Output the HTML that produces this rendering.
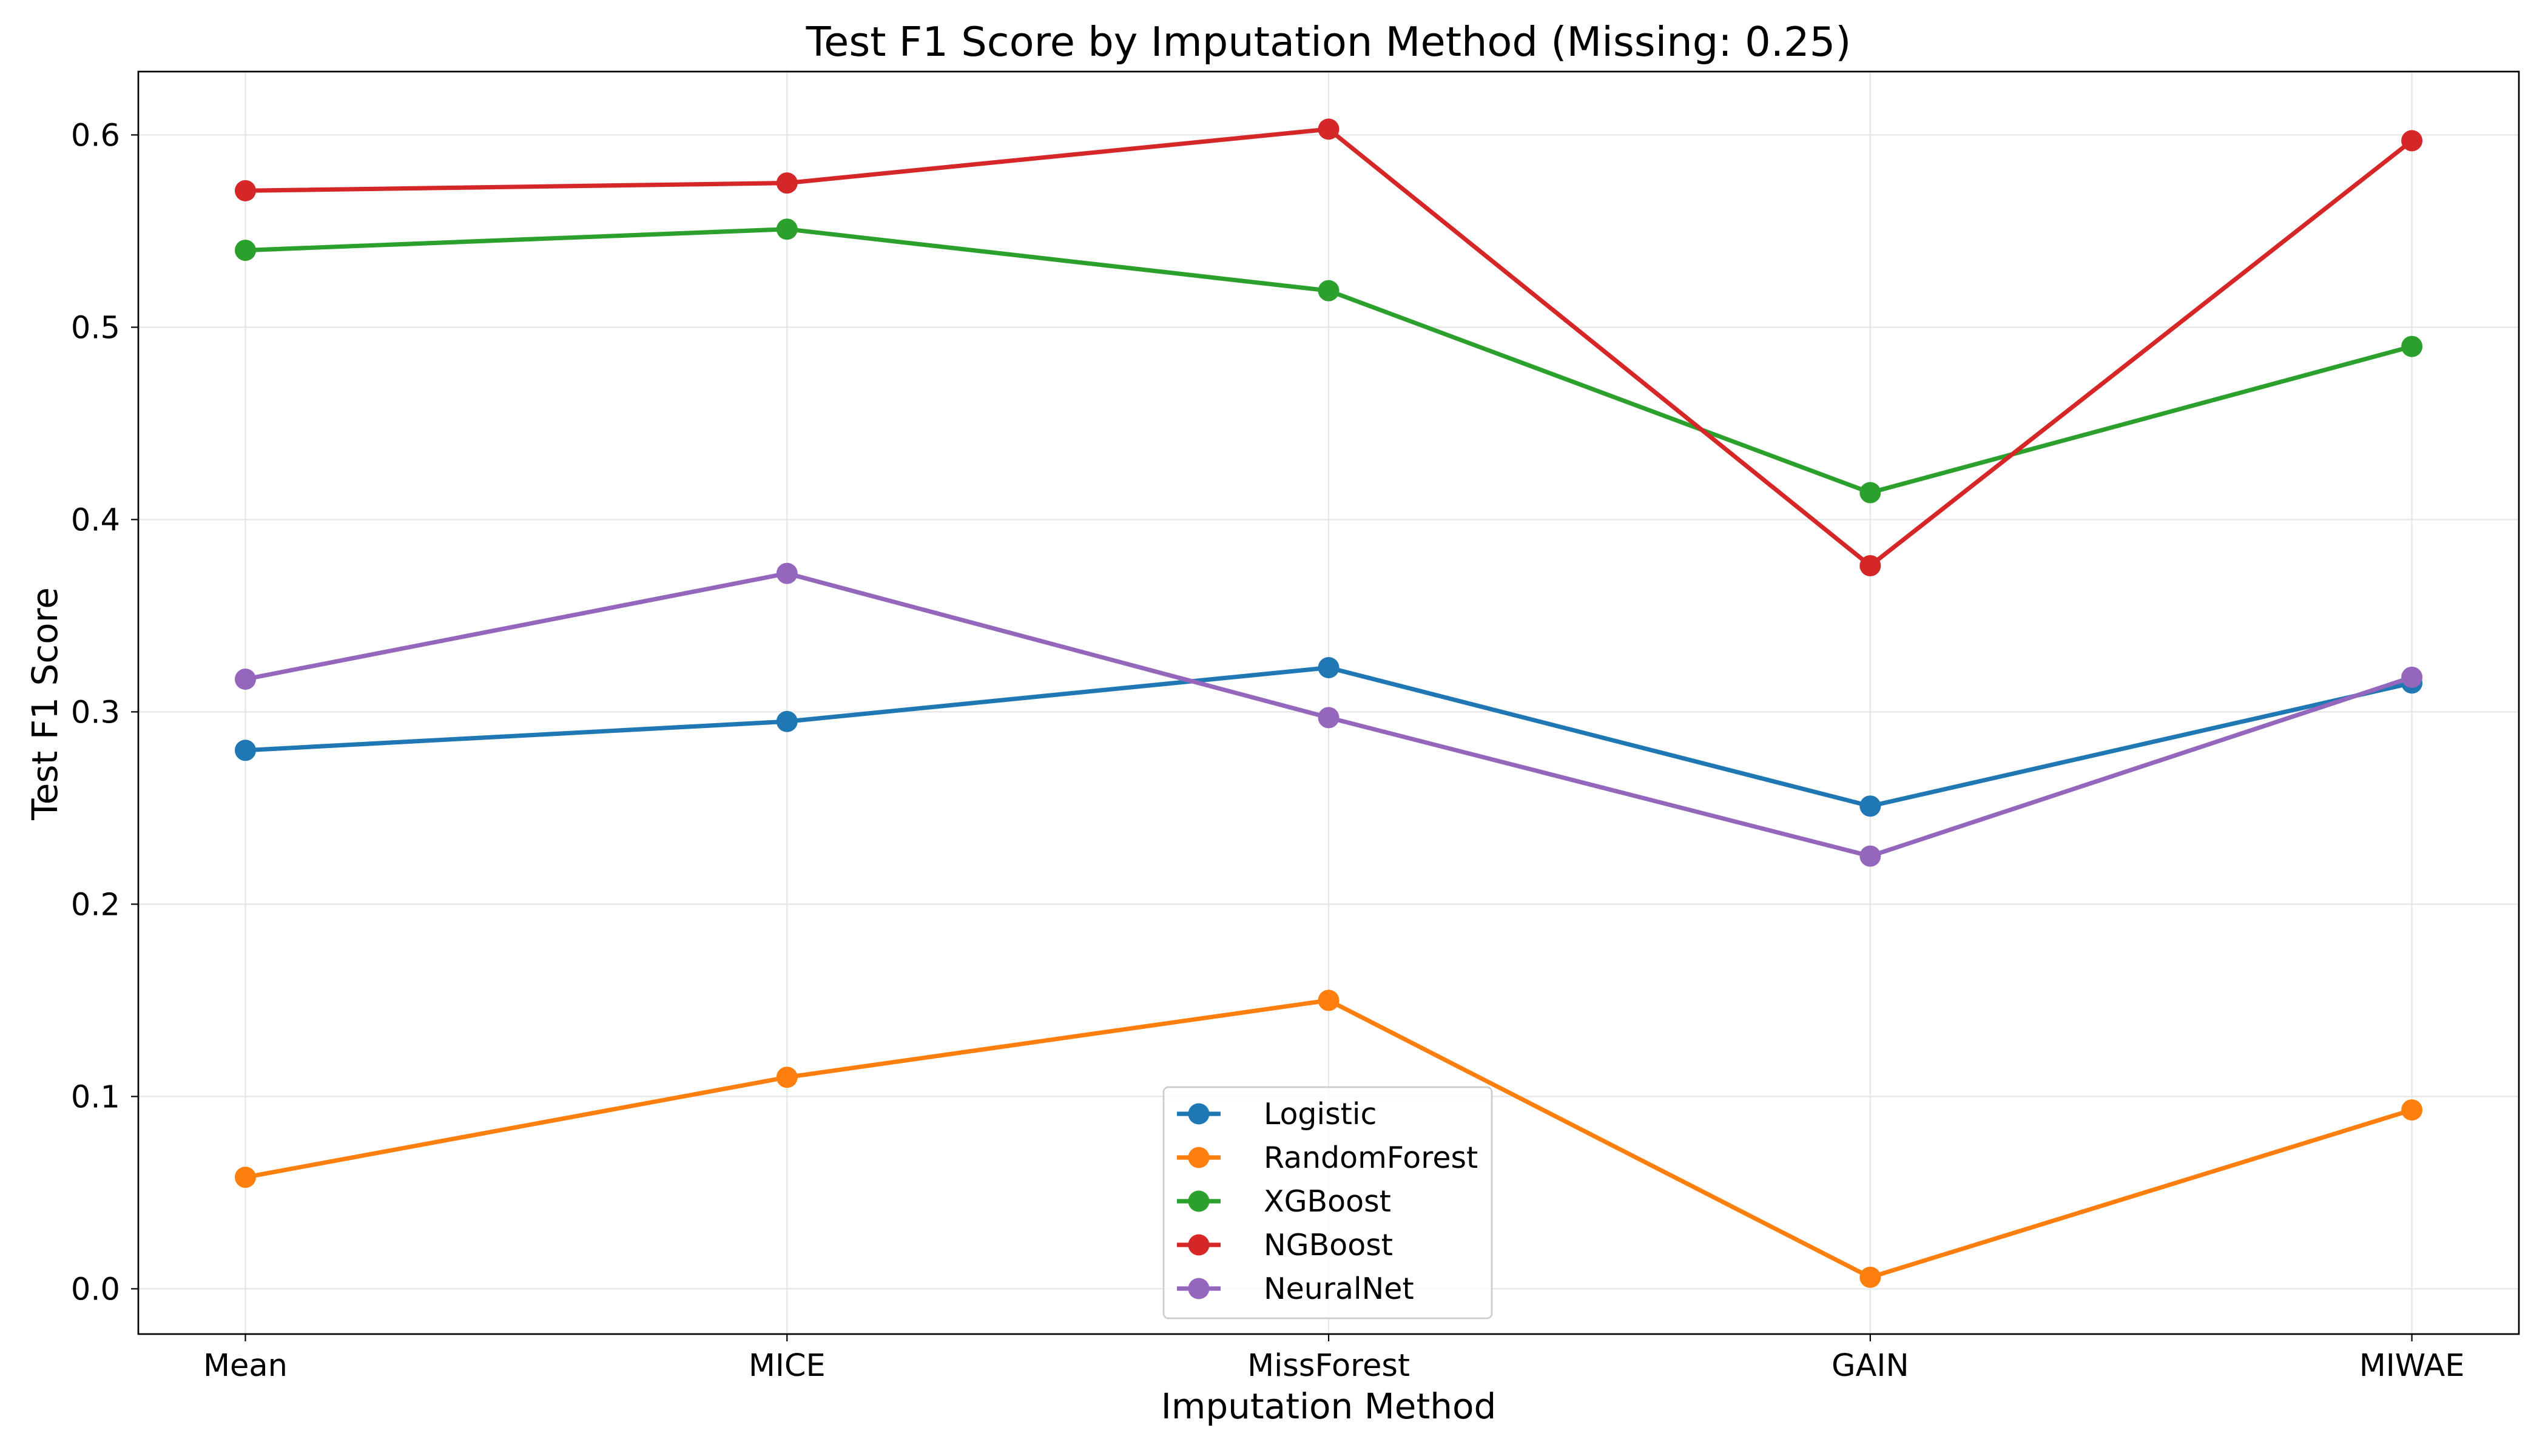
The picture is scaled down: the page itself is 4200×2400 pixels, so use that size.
<!DOCTYPE html>
<html><head><meta charset="utf-8"><style>
html,body{margin:0;padding:0;background:#fff;}
svg{display:block;font-family:"DejaVu Sans","Liberation Sans",sans-serif;}
</style></head><body>
<svg id="chart" width="4200" height="2400" viewBox="0 0 4200 2400" xmlns="http://www.w3.org/2000/svg">
<rect width="4200" height="2400" fill="#fff"/>
<g id="grid"></g>
<g id="series"></g>
<rect x="228" y="118" width="3924" height="2081" fill="none" stroke="#000" stroke-width="2.7"/>
<g id="axes"></g>
<text x="2190" y="92" font-size="67" text-anchor="middle">Test F1 Score by Imputation Method (Missing: 0.25)</text>
<text x="2190" y="2338" font-size="58" text-anchor="middle">Imputation Method</text>
<text x="0" y="0" font-size="58" text-anchor="middle" transform="translate(94,1160) rotate(-90)">Test F1 Score</text>
<g id="legend"></g>
</svg>
<script>
const categories = ["Mean","MICE","MissForest","GAIN","MIWAE"];
const seriesNames = ["Logistic","RandomForest","XGBoost","NGBoost","NeuralNet"];
const logisticValues = [0.280,0.295,0.323,0.251,0.315];
const randomForestValues = [0.058,0.110,0.150,0.006,0.093];
const xgboostValues = [0.540,0.551,0.519,0.414,0.490];
const ngboostValues = [0.571,0.575,0.603,0.376,0.597];
const neuralNetValues = [0.317,0.372,0.297,0.225,0.318];
const yTicks = [0.0,0.1,0.2,0.3,0.4,0.5,0.6];
const yTickLabels = ["0.0","0.1","0.2","0.3","0.4","0.5","0.6"];

const colors = ["#1f77b4","#ff7f0e","#2ca02c","#d62728","#9467bd"];
const allValues = [logisticValues,randomForestValues,xgboostValues,ngboostValues,neuralNetValues];
const NS="http://www.w3.org/2000/svg";
function xPos(i){return 404.5 + i*(3975.6-404.5)/(categories.length-1);}
function yPos(v){return 2124.4 - v*(2124.4-222.4)/0.6;}
function mk(tag,attrs,parent){const e=document.createElementNS(NS,tag);for(const k in attrs)e.setAttribute(k,attrs[k]);parent.appendChild(e);return e;}
const grid=document.getElementById('grid'),axes=document.getElementById('axes'),ser=document.getElementById('series'),leg=document.getElementById('legend');
categories.forEach((c,i)=>{
  const g=mk('line',{x1:xPos(i),x2:xPos(i),y1:118,y2:2199,stroke:'#e6e6e6','stroke-width':2.2},grid);
  
  
  const t=mk('line',{x1:xPos(i),x2:xPos(i),y1:2199,y2:2211,stroke:'#000','stroke-width':2.2},axes);
  
  
  const l=mk('text',{x:xPos(i),y:2268,'font-size':51,'text-anchor':'middle'},axes);
  l.textContent=c;
  
  
});
yTicks.forEach((v,i)=>{
  const g=mk('line',{x1:228,x2:4152,y1:yPos(v),y2:yPos(v),stroke:'#e6e6e6','stroke-width':2.2},grid);
  
  
  const t=mk('line',{x1:216,x2:228,y1:yPos(v),y2:yPos(v),stroke:'#000','stroke-width':2.2},axes);
  
  
  const l=mk('text',{x:198,y:yPos(v)+18,'font-size':51,'text-anchor':'end'},axes);
  l.textContent=yTickLabels[i];
  
  
});
allValues.forEach((vals,s)=>{
  const pts=vals.map((v,i)=>xPos(i)+','+yPos(v)).join(' ');
  const pl=mk('polyline',{points:pts,fill:'none',stroke:colors[s],'stroke-width':7.2,'stroke-linejoin':'round'},ser);
  
  
  vals.forEach((v,i)=>{
    const c=mk('circle',{cx:xPos(i),cy:yPos(v),r:17.5,fill:colors[s]},ser);
    
    
  });
});
const lb=mk('rect',{x:1918,y:1792,width:541,height:381,rx:8,fill:'#fff','fill-opacity':0.8,stroke:'#ccc','stroke-width':2.7},leg);


seriesNames.forEach((n,s)=>{
  const y=1836+s*72;
  const ln=mk('line',{x1:1940,x2:2012,y1:y,y2:y,stroke:colors[s],'stroke-width':7.2},leg);
  
  
  const c=mk('circle',{cx:1976,cy:y,r:17.5,fill:colors[s]},leg);
  
  
  const t=mk('text',{x:2083,y:y+17,'font-size':49},leg);
  t.textContent=n;
  
  
});
</script>
</body></html>
